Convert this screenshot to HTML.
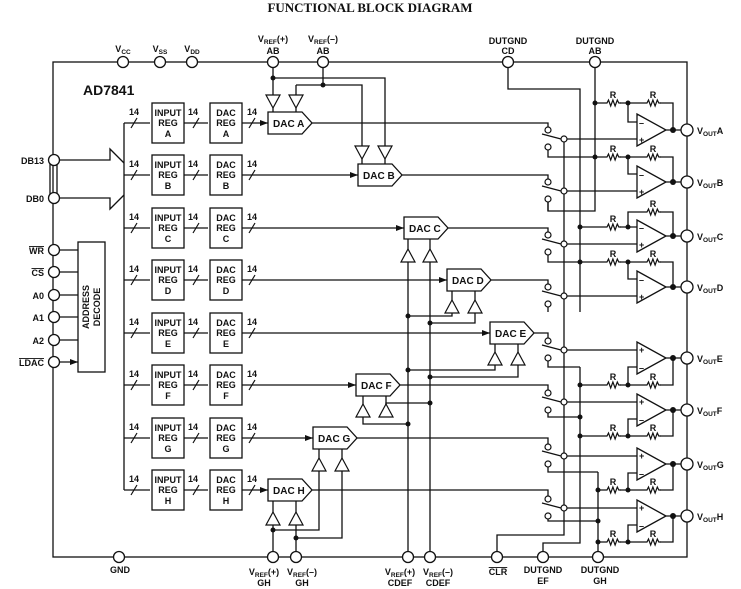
<!DOCTYPE html>
<html><head><meta charset="utf-8"><style>
html,body{margin:0;padding:0;background:#fff;}
svg{display:block;}
text{font-family:"Liberation Sans",Arial,sans-serif;font-weight:bold;font-size:9px;fill:#111;}
.t{font-family:"Liberation Serif",serif;font-size:13px;}
</style></head><body>
<svg width="741" height="589" viewBox="0 0 741 589" xmlns="http://www.w3.org/2000/svg">
<defs>
<marker id="ar" markerWidth="8" markerHeight="6" refX="8" refY="3" orient="auto" markerUnits="userSpaceOnUse"><path d="M0,0 L8,3 L0,6 z" fill="#111"/></marker>
<path id="res" d="M0,0 h2 l1.5,-3 l2.2,6 l2.2,-6 l2.2,6 l2.2,-6 l1.5,3 h2" fill="none" stroke="#111" stroke-width="1.2"/>
<path id="bd" d="M-7,0 h14 l-7,13 z" fill="#fff" stroke="#111" stroke-width="1.2"/>
<path id="bu" d="M-7,0 h14 l-7,-13 z" fill="#fff" stroke="#111" stroke-width="1.2"/>
</defs>
<text class="t" x="370" y="12" text-anchor="middle">FUNCTIONAL BLOCK DIAGRAM</text>
<g fill="none" stroke="#111" stroke-width="1.3">
<rect x="53" y="62" width="634" height="495"/>
<path d="M58,160 H110 V149 L124,163 M124,195 L110,209 V198 H58"/>
<path d="M50,160 V198 M57,160 V198"/>
<path d="M124,123 V490"/>
<rect x="78" y="242" width="27" height="130"/>
<path d="M59,250 H78 M59,272 H78 M59,295 H78 M59,317 H78 M59,340 H78 M59,362 H78" marker-end="url(#ar)"/>
<path d="M273,62 V95 M273,78 H385 V146 M323,62 V85 M296,85 H362 V146 M296,85 V95"/>
<!-- buffer to DAC stubs -->
<path d="M273,108 V112 M296,108 V112 M362,159 V164 M385,159 V164 M408,249 V239 M430,249 V239 M452,300 V291 M475,300 V291 M495,352 V344 M518,352 V344 M363,404 V396 M386,404 V396 M319,458 V449 M342,458 V449 M273,512 V501 M296,512 V501"/>
<path d="M508,62 V89 H580 V312 M595,62 V211 H548 V199"/>
<path d="M408,557 V262 M430,557 V262"/>
<path d="M408,316 H452 V313 M430,323 H475 V313 M408,370 H495 V365 M430,377 H518 V365 M363,417 V424 H408 M386,417 V403 H430"/>
<path d="M273,557 V525 M296,557 V525 M273,530 H319 V471 M296,538 H342 V471"/>
<path d="M564,139 V535 H497 V557 M580,367 V543 H543 V557 M598,472 V557"/>
<path d="M312,123 H548 V127 M402,175 H548 V179 M448,228 H548 V232 M491,280 H548 V284 M534,333 H548 V338 M400,385 H548 V390 M357,438 H548 V444 M312,490 H548 V496"/>
<path d="M548,150 V157 H595 M548,202 V211 M548,255 V262 H580 M548,307 V312 M548,361 V367 H580 M548,413 V417 H580 M548,467 V472 H598 M548,519 V521 H598"/>
<path d="M564,139 H637 M564,191 H637 M564,244 H637 M564,296 H637 M564,350 H637 M564,402 H637 M564,456 H637 M564,508 H637"/>
<path d="M542,134 L561,139 M542,186 L561,191 M542,239 L561,244 M542,291 L561,296 M542,345 L561,350 M542,397 L561,402 M542,451 L561,456 M542,503 L561,508"/>
<path d="M637,114 V146 L666,130 Z M637,166 V198 L666,182 Z M637,220 V252 L666,236 Z M637,271 V303 L666,287 Z M637,342 V374 L666,358 Z M637,394 V426 L666,410 Z M637,448 V480 L666,464 Z M637,500 V532 L666,516 Z" fill="#fff"/>
<path d="M666,130 H681 M666,182 H681 M666,236 H681 M666,287 H681 M666,358 H681 M666,410 H681 M666,464 H681 M666,516 H681"/>
<path d="M595,103 H605 M620,103 H645 M660,103 H673 V130 M628,103 V122 H637"/>
<path d="M595,157 H605 M620,157 H645 M660,157 H673 V182 M628,157 V174 H637"/>
<path d="M580,227 H605 M620,227 H637 M628,227 V212 H645 M660,212 H673 V236"/>
<path d="M580,262 H605 M620,262 H645 M660,262 H673 V287 M628,262 V279 H637"/>
<path d="M580,385 H605 M620,385 H645 M660,385 H673 V358 M628,385 V367 H637"/>
<path d="M580,436 H605 M620,436 H645 M660,436 H673 V410 M628,436 V419 H637"/>
<path d="M598,490 H605 M620,490 H645 M660,490 H673 V464 M628,490 V473 H637"/>
<path d="M598,542 H605 M620,542 H645 M660,542 H673 V516 M628,542 V525 H637"/>
</g>
<g>
<use href="#res" x="605" y="103"/><use href="#res" x="645" y="103"/>
<use href="#res" x="605" y="157"/><use href="#res" x="645" y="157"/>
<use href="#res" x="605" y="227"/><use href="#res" x="645" y="212"/>
<use href="#res" x="605" y="262"/><use href="#res" x="645" y="262"/>
<use href="#res" x="605" y="385"/><use href="#res" x="645" y="385"/>
<use href="#res" x="605" y="436"/><use href="#res" x="645" y="436"/>
<use href="#res" x="605" y="490"/><use href="#res" x="645" y="490"/>
<use href="#res" x="605" y="542"/><use href="#res" x="645" y="542"/>
</g>
<g text-anchor="middle">
<text x="613" y="98">R</text><text x="653" y="98">R</text>
<text x="613" y="152">R</text><text x="653" y="152">R</text>
<text x="613" y="222">R</text><text x="653" y="207">R</text>
<text x="613" y="257">R</text><text x="653" y="257">R</text>
<text x="613" y="380">R</text><text x="653" y="380">R</text>
<text x="613" y="431">R</text><text x="653" y="431">R</text>
<text x="613" y="485">R</text><text x="653" y="485">R</text>
<text x="613" y="537">R</text><text x="653" y="537">R</text>
</g>
<g>
<text x="639" y="126">–</text><text x="639" y="143">+</text>
<text x="639" y="178">–</text><text x="639" y="195">+</text>
<text x="639" y="231">–</text><text x="639" y="248">+</text>
<text x="639" y="283">–</text><text x="639" y="300">+</text>
<text x="639" y="353">+</text><text x="639" y="371">–</text>
<text x="639" y="405">+</text><text x="639" y="423">–</text>
<text x="639" y="459">+</text><text x="639" y="477">–</text>
<text x="639" y="511">+</text><text x="639" y="529">–</text>
</g>
<use href="#bd" x="273" y="95"/><use href="#bd" x="296" y="95"/>
<use href="#bd" x="362" y="146"/><use href="#bd" x="385" y="146"/>
<use href="#bu" x="408" y="262"/><use href="#bu" x="430" y="262"/>
<use href="#bu" x="452" y="313"/><use href="#bu" x="475" y="313"/>
<use href="#bu" x="495" y="365"/><use href="#bu" x="518" y="365"/>
<use href="#bu" x="363" y="417"/><use href="#bu" x="386" y="417"/>
<use href="#bu" x="319" y="471"/><use href="#bu" x="342" y="471"/>
<use href="#bu" x="273" y="525"/><use href="#bu" x="296" y="525"/>
<g fill="#fff" stroke="#111" stroke-width="1.3">
<path d="M268,112 h34 l10,11 l-10,11 h-34 z"/>
<path d="M358,164 h34 l10,11 l-10,11 h-34 z"/>
<path d="M404,217 h34 l10,11 l-10,11 h-34 z"/>
<path d="M447,269 h34 l10,11 l-10,11 h-34 z"/>
<path d="M490,322 h34 l10,11 l-10,11 h-34 z"/>
<path d="M356,374 h34 l10,11 l-10,11 h-34 z"/>
<path d="M313,427 h34 l10,11 l-10,11 h-34 z"/>
<path d="M268,479 h34 l10,11 l-10,11 h-34 z"/>
</g>
<g>
<text x="273" y="127" style="font-size:10px">DAC A</text>
<text x="363" y="179" style="font-size:10px">DAC B</text>
<text x="409" y="232" style="font-size:10px">DAC C</text>
<text x="452" y="284" style="font-size:10px">DAC D</text>
<text x="495" y="337" style="font-size:10px">DAC E</text>
<text x="361" y="389" style="font-size:10px">DAC F</text>
<text x="318" y="442" style="font-size:10px">DAC G</text>
<text x="273" y="494" style="font-size:10px">DAC H</text>
</g>
<g>
<g transform="translate(0,123)">
<path d="M124,0 H150 M184,0 H208 M242,0 H268" stroke="#111" stroke-width="1.3" fill="none" marker-end="url(#ar)"/>
<path d="M131,5 L137,-5 M193,5 L199,-5 M249,5 L255,-5" stroke="#111" stroke-width="1.2"/>
<rect x="152" y="-20" width="32" height="40" fill="#fff" stroke="#111" stroke-width="1.3"/>
<rect x="210" y="-20" width="32" height="40" fill="#fff" stroke="#111" stroke-width="1.3"/>
<g text-anchor="middle"><text x="134" y="-8">14</text><text x="193" y="-8">14</text><text x="252" y="-8">14</text>
<text x="168" y="-7">INPUT</text><text x="168" y="3">REG</text><text x="168" y="14">A</text>
<text x="226" y="-7">DAC</text><text x="226" y="3">REG</text><text x="226" y="14">A</text></g>
</g>
<g transform="translate(0,175)">
<path d="M124,0 H150 M184,0 H208 M242,0 H358" stroke="#111" stroke-width="1.3" fill="none" marker-end="url(#ar)"/>
<path d="M131,5 L137,-5 M193,5 L199,-5 M249,5 L255,-5" stroke="#111" stroke-width="1.2"/>
<rect x="152" y="-20" width="32" height="40" fill="#fff" stroke="#111" stroke-width="1.3"/>
<rect x="210" y="-20" width="32" height="40" fill="#fff" stroke="#111" stroke-width="1.3"/>
<g text-anchor="middle"><text x="134" y="-8">14</text><text x="193" y="-8">14</text><text x="252" y="-8">14</text>
<text x="168" y="-7">INPUT</text><text x="168" y="3">REG</text><text x="168" y="14">B</text>
<text x="226" y="-7">DAC</text><text x="226" y="3">REG</text><text x="226" y="14">B</text></g>
</g>
<g transform="translate(0,228)">
<path d="M124,0 H150 M184,0 H208 M242,0 H404" stroke="#111" stroke-width="1.3" fill="none" marker-end="url(#ar)"/>
<path d="M131,5 L137,-5 M193,5 L199,-5 M249,5 L255,-5" stroke="#111" stroke-width="1.2"/>
<rect x="152" y="-20" width="32" height="40" fill="#fff" stroke="#111" stroke-width="1.3"/>
<rect x="210" y="-20" width="32" height="40" fill="#fff" stroke="#111" stroke-width="1.3"/>
<g text-anchor="middle"><text x="134" y="-8">14</text><text x="193" y="-8">14</text><text x="252" y="-8">14</text>
<text x="168" y="-7">INPUT</text><text x="168" y="3">REG</text><text x="168" y="14">C</text>
<text x="226" y="-7">DAC</text><text x="226" y="3">REG</text><text x="226" y="14">C</text></g>
</g>
<g transform="translate(0,280)">
<path d="M124,0 H150 M184,0 H208 M242,0 H447" stroke="#111" stroke-width="1.3" fill="none" marker-end="url(#ar)"/>
<path d="M131,5 L137,-5 M193,5 L199,-5 M249,5 L255,-5" stroke="#111" stroke-width="1.2"/>
<rect x="152" y="-20" width="32" height="40" fill="#fff" stroke="#111" stroke-width="1.3"/>
<rect x="210" y="-20" width="32" height="40" fill="#fff" stroke="#111" stroke-width="1.3"/>
<g text-anchor="middle"><text x="134" y="-8">14</text><text x="193" y="-8">14</text><text x="252" y="-8">14</text>
<text x="168" y="-7">INPUT</text><text x="168" y="3">REG</text><text x="168" y="14">D</text>
<text x="226" y="-7">DAC</text><text x="226" y="3">REG</text><text x="226" y="14">D</text></g>
</g>
<g transform="translate(0,333)">
<path d="M124,0 H150 M184,0 H208 M242,0 H490" stroke="#111" stroke-width="1.3" fill="none" marker-end="url(#ar)"/>
<path d="M131,5 L137,-5 M193,5 L199,-5 M249,5 L255,-5" stroke="#111" stroke-width="1.2"/>
<rect x="152" y="-20" width="32" height="40" fill="#fff" stroke="#111" stroke-width="1.3"/>
<rect x="210" y="-20" width="32" height="40" fill="#fff" stroke="#111" stroke-width="1.3"/>
<g text-anchor="middle"><text x="134" y="-8">14</text><text x="193" y="-8">14</text><text x="252" y="-8">14</text>
<text x="168" y="-7">INPUT</text><text x="168" y="3">REG</text><text x="168" y="14">E</text>
<text x="226" y="-7">DAC</text><text x="226" y="3">REG</text><text x="226" y="14">E</text></g>
</g>
<g transform="translate(0,385)">
<path d="M124,0 H150 M184,0 H208 M242,0 H356" stroke="#111" stroke-width="1.3" fill="none" marker-end="url(#ar)"/>
<path d="M131,5 L137,-5 M193,5 L199,-5 M249,5 L255,-5" stroke="#111" stroke-width="1.2"/>
<rect x="152" y="-20" width="32" height="40" fill="#fff" stroke="#111" stroke-width="1.3"/>
<rect x="210" y="-20" width="32" height="40" fill="#fff" stroke="#111" stroke-width="1.3"/>
<g text-anchor="middle"><text x="134" y="-8">14</text><text x="193" y="-8">14</text><text x="252" y="-8">14</text>
<text x="168" y="-7">INPUT</text><text x="168" y="3">REG</text><text x="168" y="14">F</text>
<text x="226" y="-7">DAC</text><text x="226" y="3">REG</text><text x="226" y="14">F</text></g>
</g>
<g transform="translate(0,438)">
<path d="M124,0 H150 M184,0 H208 M242,0 H313" stroke="#111" stroke-width="1.3" fill="none" marker-end="url(#ar)"/>
<path d="M131,5 L137,-5 M193,5 L199,-5 M249,5 L255,-5" stroke="#111" stroke-width="1.2"/>
<rect x="152" y="-20" width="32" height="40" fill="#fff" stroke="#111" stroke-width="1.3"/>
<rect x="210" y="-20" width="32" height="40" fill="#fff" stroke="#111" stroke-width="1.3"/>
<g text-anchor="middle"><text x="134" y="-8">14</text><text x="193" y="-8">14</text><text x="252" y="-8">14</text>
<text x="168" y="-7">INPUT</text><text x="168" y="3">REG</text><text x="168" y="14">G</text>
<text x="226" y="-7">DAC</text><text x="226" y="3">REG</text><text x="226" y="14">G</text></g>
</g>
<g transform="translate(0,490)">
<path d="M124,0 H150 M184,0 H208 M242,0 H268" stroke="#111" stroke-width="1.3" fill="none" marker-end="url(#ar)"/>
<path d="M131,5 L137,-5 M193,5 L199,-5 M249,5 L255,-5" stroke="#111" stroke-width="1.2"/>
<rect x="152" y="-20" width="32" height="40" fill="#fff" stroke="#111" stroke-width="1.3"/>
<rect x="210" y="-20" width="32" height="40" fill="#fff" stroke="#111" stroke-width="1.3"/>
<g text-anchor="middle"><text x="134" y="-8">14</text><text x="193" y="-8">14</text><text x="252" y="-8">14</text>
<text x="168" y="-7">INPUT</text><text x="168" y="3">REG</text><text x="168" y="14">H</text>
<text x="226" y="-7">DAC</text><text x="226" y="3">REG</text><text x="226" y="14">H</text></g>
</g>
</g>
<g fill="#111">
<circle cx="273" cy="78" r="2.5"/><circle cx="323" cy="85" r="2.5"/>
<circle cx="595" cy="103" r="2.5"/><circle cx="628" cy="103" r="2.5"/><circle cx="673" cy="130" r="3"/>
<circle cx="595" cy="157" r="2.5"/><circle cx="628" cy="157" r="2.5"/><circle cx="673" cy="182" r="3"/>
<circle cx="580" cy="227" r="2.5"/><circle cx="628" cy="227" r="2.5"/><circle cx="673" cy="236" r="3"/>
<circle cx="580" cy="262" r="2.5"/><circle cx="628" cy="262" r="2.5"/><circle cx="673" cy="287" r="3"/>
<circle cx="580" cy="385" r="2.5"/><circle cx="628" cy="385" r="2.5"/><circle cx="673" cy="358" r="3"/>
<circle cx="580" cy="417" r="2.5"/><circle cx="580" cy="436" r="2.5"/><circle cx="628" cy="436" r="2.5"/><circle cx="673" cy="410" r="3"/>
<circle cx="598" cy="490" r="2.5"/><circle cx="628" cy="490" r="2.5"/><circle cx="673" cy="464" r="3"/>
<circle cx="598" cy="521" r="2.5"/><circle cx="598" cy="542" r="2.5"/><circle cx="628" cy="542" r="2.5"/><circle cx="673" cy="516" r="3"/>
<circle cx="408" cy="316" r="2.5"/><circle cx="430" cy="323" r="2.5"/><circle cx="408" cy="370" r="2.5"/><circle cx="430" cy="377" r="2.5"/>
<circle cx="408" cy="424" r="2.5"/><circle cx="430" cy="403" r="2.5"/>
<circle cx="273" cy="530" r="2.5"/><circle cx="296" cy="538" r="2.5"/>
</g>
<g fill="#fff" stroke="#111" stroke-width="1.2">
<circle cx="548" cy="130" r="3"/><circle cx="548" cy="147" r="3"/><circle cx="564" cy="139" r="3"/>
<circle cx="548" cy="182" r="3"/><circle cx="548" cy="199" r="3"/><circle cx="564" cy="191" r="3"/>
<circle cx="548" cy="235" r="3"/><circle cx="548" cy="252" r="3"/><circle cx="564" cy="244" r="3"/>
<circle cx="548" cy="287" r="3"/><circle cx="548" cy="304" r="3"/><circle cx="564" cy="296" r="3"/>
<circle cx="548" cy="341" r="3"/><circle cx="548" cy="358" r="3"/><circle cx="564" cy="350" r="3"/>
<circle cx="548" cy="393" r="3"/><circle cx="548" cy="410" r="3"/><circle cx="564" cy="402" r="3"/>
<circle cx="548" cy="447" r="3"/><circle cx="548" cy="464" r="3"/><circle cx="564" cy="456" r="3"/>
<circle cx="548" cy="499" r="3"/><circle cx="548" cy="516" r="3"/><circle cx="564" cy="508" r="3"/>
</g>
<g fill="#fff" stroke="#111" stroke-width="1.3">
<circle cx="123" cy="62" r="5.5"/><circle cx="160" cy="62" r="5.5"/><circle cx="192" cy="62" r="5.5"/>
<circle cx="273" cy="62" r="5.5"/><circle cx="323" cy="62" r="5.5"/><circle cx="508" cy="62" r="5.5"/><circle cx="595" cy="62" r="5.5"/>
<circle cx="119" cy="557" r="5.5"/><circle cx="273" cy="557" r="5.5"/><circle cx="296" cy="557" r="5.5"/>
<circle cx="408" cy="557" r="5.5"/><circle cx="430" cy="557" r="5.5"/><circle cx="497" cy="557" r="5.5"/>
<circle cx="543" cy="557" r="5.5"/><circle cx="598" cy="557" r="5.5"/>
<circle cx="54" cy="160" r="5.5"/><circle cx="54" cy="198" r="5.5"/>
<circle cx="54" cy="250" r="5.5"/><circle cx="54" cy="272" r="5.5"/><circle cx="54" cy="295" r="5.5"/>
<circle cx="54" cy="317" r="5.5"/><circle cx="54" cy="340" r="5.5"/><circle cx="54" cy="362" r="5.5"/>
<circle cx="687" cy="130" r="6"/><circle cx="687" cy="182" r="6"/><circle cx="687" cy="236" r="6"/><circle cx="687" cy="287" r="6"/>
<circle cx="687" cy="358" r="6"/><circle cx="687" cy="410" r="6"/><circle cx="687" cy="464" r="6"/><circle cx="687" cy="516" r="6"/>
</g>
<text x="83" y="95" style="font-size:14px">AD7841</text>
<text transform="translate(89,307) rotate(-90)" text-anchor="middle">ADDRESS</text>
<text transform="translate(100,307) rotate(-90)" text-anchor="middle">DECODE</text>
<g text-anchor="middle">
<text x="123" y="52">V<tspan font-size="6.5" dy="2">CC</tspan></text>
<text x="160" y="52">V<tspan font-size="6.5" dy="2">SS</tspan></text>
<text x="192" y="52">V<tspan font-size="6.5" dy="2">DD</tspan></text>
<text x="273" y="42">V<tspan font-size="6.5" dy="2">REF</tspan><tspan dy="-2">(+)</tspan></text>
<text x="273" y="54">AB</text>
<text x="323" y="42">V<tspan font-size="6.5" dy="2">REF</tspan><tspan dy="-2">(–)</tspan></text>
<text x="323" y="54">AB</text>
<text x="508" y="44">DUTGND</text><text x="508" y="54">CD</text>
<text x="595" y="44">DUTGND</text><text x="595" y="54">AB</text>
<text x="120" y="573">GND</text>
<text x="264" y="575">V<tspan font-size="6.5" dy="2">REF</tspan><tspan dy="-2">(+)</tspan></text>
<text x="264" y="586">GH</text>
<text x="302" y="575">V<tspan font-size="6.5" dy="2">REF</tspan><tspan dy="-2">(–)</tspan></text>
<text x="302" y="586">GH</text>
<text x="400" y="575">V<tspan font-size="6.5" dy="2">REF</tspan><tspan dy="-2">(+)</tspan></text>
<text x="400" y="586">CDEF</text>
<text x="438" y="575">V<tspan font-size="6.5" dy="2">REF</tspan><tspan dy="-2">(–)</tspan></text>
<text x="438" y="586">CDEF</text>
<text x="498" y="575" text-decoration="overline">CLR</text>
<text x="543" y="573">DUTGND</text><text x="543" y="584">EF</text>
<text x="600" y="573">DUTGND</text><text x="600" y="584">GH</text>
</g>
<g text-anchor="end">
<text x="44" y="164">DB13</text>
<text x="44" y="202">DB0</text>
<text x="44" y="254" text-decoration="overline">WR</text>
<text x="44" y="276" text-decoration="overline">CS</text>
<text x="44" y="299">A0</text>
<text x="44" y="321">A1</text>
<text x="44" y="344">A2</text>
<text x="44" y="366" text-decoration="overline">LDAC</text>
</g>
<g>
<text x="697" y="134">V<tspan font-size="6.5" dy="2">OUT</tspan><tspan dy="-2">A</tspan></text>
<text x="697" y="186">V<tspan font-size="6.5" dy="2">OUT</tspan><tspan dy="-2">B</tspan></text>
<text x="697" y="240">V<tspan font-size="6.5" dy="2">OUT</tspan><tspan dy="-2">C</tspan></text>
<text x="697" y="291">V<tspan font-size="6.5" dy="2">OUT</tspan><tspan dy="-2">D</tspan></text>
<text x="697" y="362">V<tspan font-size="6.5" dy="2">OUT</tspan><tspan dy="-2">E</tspan></text>
<text x="697" y="414">V<tspan font-size="6.5" dy="2">OUT</tspan><tspan dy="-2">F</tspan></text>
<text x="697" y="468">V<tspan font-size="6.5" dy="2">OUT</tspan><tspan dy="-2">G</tspan></text>
<text x="697" y="520">V<tspan font-size="6.5" dy="2">OUT</tspan><tspan dy="-2">H</tspan></text>
</g>
</svg>
</body></html>
